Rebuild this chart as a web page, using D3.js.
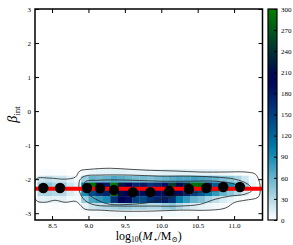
<!DOCTYPE html>
<html><head><meta charset="utf-8">
<script src="https://cdn.jsdelivr.net/npm/d3@7"></script>
<style>body{margin:0;background:#fff}svg{display:block}text{font-family:"Liberation Serif","DejaVu Serif",serif;fill:#000}</style>
</head><body><svg id="c" width="293" height="245"></svg>
<script>
// ---- data ----
const xTicks = [8.5, 9.0, 9.5, 10.0, 10.5, 11.0];
const yTicks = [-3, -2, -1, 0, 1, 2, 3];
const cbTicks = [0, 30, 60, 90, 120, 150, 180, 210, 240, 270, 300];
// 2D histogram: bin lower edges
const binX0 = [8.3,8.4,8.5,8.6,8.7,8.8,8.9,9.0,9.1,9.2,9.3,9.4,9.5,9.6,9.7,9.8,9.9,10.0,10.1,10.2,10.3,10.4,10.5,10.6,10.7,10.8,10.9,11.0,11.1,11.2];
const binY0 = [-1.9, -2.1, -2.3, -2.5, -2.7, -2.9, -3.1];
const rowA = [2,3,2,2,0,0,5,8,10,10,12,12,10,10,10,10,10,12,12,12,12,10,10,10,8,6,5,3,2,0];
const rowB = [20,25,20,20,10,5,40,60,55,60,70,65,60,55,55,50,55,60,65,70,70,75,70,65,60,50,45,35,20,5];
const rowC = [40,45,35,40,20,10,100,290,190,180,300,220,200,170,180,160,170,190,250,210,230,290,280,170,130,110,90,70,40,8];
const rowD = [30,35,30,30,15,8,90,140,160,170,290,210,200,210,190,180,190,210,210,190,170,150,130,100,80,60,45,30,15,3];
const rowE = [10,12,10,12,5,5,40,70,80,90,160,200,190,150,140,160,170,180,160,100,80,60,50,35,25,15,10,5,3,0];
const rowF = [0,2,3,2,0,2,10,20,25,30,35,40,40,35,35,30,30,40,45,30,20,15,10,8,5,3,2,0,0,0];
const rowG = [0,0,0,0,0,0,2,3,4,5,5,5,5,4,4,4,4,5,5,4,3,2,2,1,0,0,0,0,0,0];
const histRows = [rowA, rowB, rowC, rowD, rowE, rowF, rowG];
// contour levels (data coords)
const contour1 = [[8.28,-2.00],[8.47,-1.97],[8.68,-2.00],[8.82,-1.94],[8.88,-1.76],[9.02,-1.71],[9.30,-1.68],[9.57,-1.71],[9.85,-1.74],[10.19,-1.76],[10.53,-1.79],[10.88,-1.79],[11.15,-1.79],[11.29,-1.85],[11.34,-2.03],[11.36,-2.32],[11.33,-2.53],[11.15,-2.62],[11.01,-2.68],[10.88,-2.85],[10.67,-2.91],[10.26,-2.91],[9.85,-2.94],[9.43,-2.94],[9.16,-2.91],[8.95,-2.88],[8.88,-2.74],[8.82,-2.65],[8.68,-2.68],[8.54,-2.62],[8.40,-2.68],[8.28,-2.62]];
const contour2 = [[8.88,-2.03],[8.95,-1.91],[9.16,-1.88],[9.57,-1.88],[9.98,-1.91],[10.40,-1.91],[10.74,-1.94],[11.01,-2.00],[11.19,-2.15],[11.25,-2.32],[11.15,-2.44],[10.94,-2.50],[10.74,-2.59],[10.53,-2.74],[10.26,-2.79],[9.85,-2.79],[9.43,-2.79],[9.09,-2.76],[8.95,-2.62],[8.88,-2.38]];
const contour3 = [[8.95,-2.09],[9.16,-2.03],[9.57,-2.03],[9.98,-2.06],[10.40,-2.06],[10.74,-2.06],[11.01,-2.15],[11.08,-2.26],[10.94,-2.32],[10.67,-2.35],[10.40,-2.41],[10.12,-2.53],[9.85,-2.68],[9.57,-2.74],[9.30,-2.74],[9.13,-2.62],[8.99,-2.41]];
// binned medians
const binMass = [8.38, 8.61, 8.98, 9.16, 9.35, 9.61, 9.85, 10.11, 10.38, 10.62, 10.85, 11.08];
const binBeta = [-2.26, -2.26, -2.26, -2.27, -2.32, -2.38, -2.38, -2.35, -2.29, -2.26, -2.23, -2.23];
// fit line
const fitSlope = 0, fitIntercept = -2.28;
const binW = 0.1, binH = 0.2, vmax = 300;

// ---- chart ----
const svg = d3.select("#c");
const L = 35, R = 262.5, T = 9, B = 220;
const x = d3.scaleLinear().domain([8.266, 11.39]).range([L, R]);
const y = d3.scaleLinear().domain([-3.2, 3]).range([B, T]);

function ocean_r(v){
  const t = 1 - Math.max(0, Math.min(1, v / vmax));
  const r = Math.max(0, Math.min(1, 3*t - 2));
  const g = Math.min(1, Math.abs((3*t - 1) / 2));
  const b = t;
  return d3.rgb(r*255, g*255, b*255).toString();
}

svg.append("defs").append("clipPath").attr("id","pc")
  .append("rect").attr("x",L).attr("y",T).attr("width",R-L).attr("height",B-T);

const plot = svg.append("g").attr("clip-path","url(#pc)");
const cells = [];
histRows.forEach((row, j) => row.forEach((v, i) => { if (v > 0) cells.push({x0: binX0[i], y0: binY0[j], v}); }));
plot.selectAll("rect.cell").data(cells).join("rect").attr("class","cell")
  .attr("x", d => x(d.x0)).attr("y", d => y(d.y0 + binH))
  .attr("width", d => x(d.x0 + binW) - x(d.x0) + 0.3)
  .attr("height", d => y(d.y0) - y(d.y0 + binH) + 0.3)
  .attr("fill", d => ocean_r(d.v));

const cline = d3.line().x(d => x(d[0])).y(d => y(d[1])).curve(d3.curveCatmullRomClosed.alpha(0.5));
[contour1, contour2, contour3].forEach(c => {
  plot.append("path").attr("d", cline(c)).attr("fill","none").attr("stroke","#222").attr("stroke-width",0.8);
});

const xd = x.domain();
plot.append("line").attr("x1", x(xd[0])).attr("x2", x(xd[1]))
  .attr("y1", y(fitIntercept + fitSlope*xd[0])).attr("y2", y(fitIntercept + fitSlope*xd[1]))
  .attr("stroke","#ff0000").attr("stroke-width",4);

plot.selectAll("circle.pt").data(binMass.map((m,i)=>[m, binBeta[i]])).join("circle")
  .attr("cx", d => x(d[0])).attr("cy", d => y(d[1])).attr("r", 5.2).attr("fill","#000");

// axes
const fmtX = d3.format(".1f");
const fmtY = d => d < 0 ? "-" + Math.abs(d) : String(d);
const axB = svg.append("g").attr("transform",`translate(0,${B})`)
  .call(d3.axisBottom(x).tickValues(xTicks).tickSizeInner(-4).tickSizeOuter(0).tickPadding(3).tickFormat(fmtX));
const axT = svg.append("g").attr("transform",`translate(0,${T})`)
  .call(d3.axisTop(x).tickValues(xTicks).tickSizeInner(-4).tickSizeOuter(0).tickFormat(""));
const axL = svg.append("g").attr("transform",`translate(${L},0)`)
  .call(d3.axisLeft(y).tickValues(yTicks).tickSizeInner(-4).tickSizeOuter(0).tickPadding(4).tickFormat(fmtY));
const axR = svg.append("g").attr("transform",`translate(${R},0)`)
  .call(d3.axisRight(y).tickValues(yTicks).tickSizeInner(-4).tickSizeOuter(0).tickFormat(""));
[axB, axT, axL, axR].forEach(a => {
  a.select(".domain").remove();
  a.selectAll(".tick line").attr("stroke","#000").attr("stroke-width",1);
  a.selectAll("text").attr("font-size",7).attr("font-family",'"Liberation Serif",serif');
});
svg.append("rect").attr("x",L).attr("y",T).attr("width",R-L).attr("height",B-T)
  .attr("fill","none").attr("stroke","#000").attr("stroke-width",1.5);

// axis labels
const xl = svg.append("text").attr("x",(L+R)/2).attr("y",240).attr("text-anchor","middle").attr("font-size",12);
xl.append("tspan").text("log");
xl.append("tspan").attr("font-size",7.5).attr("dy",2).text("10");
xl.append("tspan").attr("dy",-2).text("(");
xl.append("tspan").attr("font-style","italic").text("M");
xl.append("tspan").attr("font-size",7.5).attr("dy",2).text("⋆");
xl.append("tspan").attr("dy",-2).text("/M");
xl.append("tspan").attr("font-size",7.5).attr("dy",2).text("⊙");
xl.append("tspan").attr("dy",-2).text(")");

const yl = svg.append("text").attr("transform",`translate(17,${(T+B)/2}) rotate(-90)`).attr("text-anchor","middle").attr("font-size",14);
yl.append("tspan").attr("font-style","italic").text("β");
yl.append("tspan").attr("font-size",9).attr("dy",3).text("int");

// colorbar
const cbL = 268, cbR = 277;
const cy = d3.scaleLinear().domain([0, vmax]).range([B, T]);
const grad = svg.select("defs").append("linearGradient").attr("id","cbg").attr("x1",0).attr("y1",1).attr("x2",0).attr("y2",0);
d3.range(0, 1.0001, 0.05).forEach(t => grad.append("stop").attr("offset", t).attr("stop-color", ocean_r(t*vmax)));
svg.append("rect").attr("x",cbL).attr("y",T).attr("width",cbR-cbL).attr("height",B-T).attr("fill","url(#cbg)");
const axC = svg.append("g").attr("transform",`translate(${cbR},0)`)
  .call(d3.axisRight(cy).tickValues(cbTicks).tickSizeInner(-3).tickSizeOuter(0).tickPadding(4).tickFormat(d3.format("d")));
axC.select(".domain").remove();
axC.selectAll(".tick line").attr("stroke","#000");
axC.selectAll("text").attr("font-size",7).attr("font-family",'"Liberation Serif",serif');
svg.append("rect").attr("x",cbL).attr("y",T).attr("width",cbR-cbL).attr("height",B-T)
  .attr("fill","none").attr("stroke","#000").attr("stroke-width",1.2);
</script></body></html>
